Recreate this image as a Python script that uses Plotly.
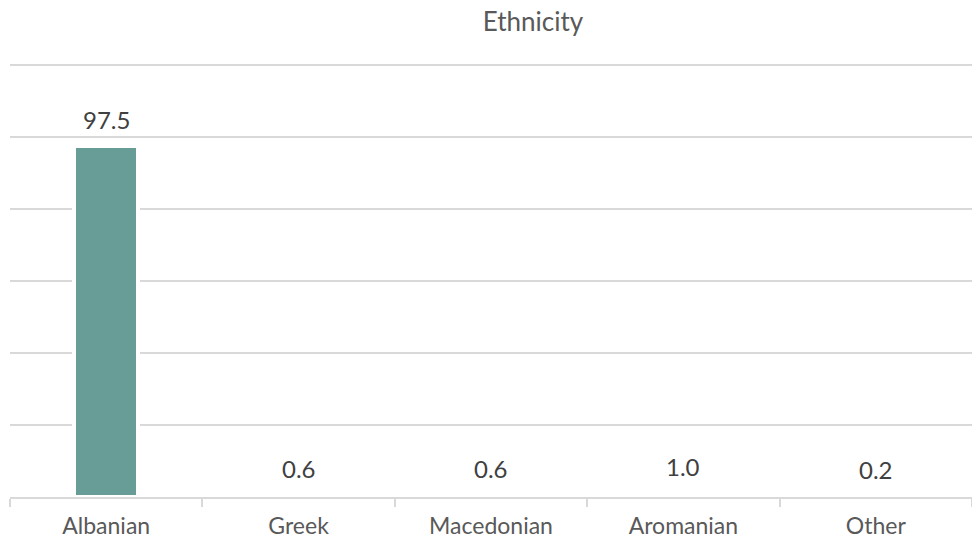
import plotly.graph_objects as go

# Share of population by ethnicity (%)
categories = ["Albanian", "Greek", "Macedonian", "Aromanian", "Other"]
shares = [97.5, 0.6, 0.6, 1.0, 0.2]

bar_color = "#679D96"
label_color = "#404040"
axis_text_color = "#595959"
grid_color = "#D9D9D9"
font_family = "Lato, 'Noto Sans', sans-serif"

fig = go.Figure(
    go.Bar(
        x=categories,
        y=shares,
        width=0.333,
        marker=dict(color=bar_color, line=dict(color="white", width=4)),
        hoverinfo="x+y",
    )
)

# Value labels sitting above each bar
for cat, val in zip(categories, shares):
    fig.add_annotation(
        x=cat,
        y=val,
        xref="x",
        yref="y",
        text=f"{val:.1f}",
        showarrow=False,
        yanchor="bottom",
        yshift=10,
        font=dict(size=24, color=label_color, family=font_family),
    )

fig.update_layout(
    width=972,
    height=540,
    margin=dict(l=10, r=0, t=61, b=43),
    paper_bgcolor="white",
    plot_bgcolor="white",
    showlegend=False,
    font=dict(family=font_family, color=axis_text_color, size=23),
    title=dict(
        text="Ethnicity",
        x=533 / 972,
        xanchor="center",
        xref="container",
        y=1 - 22 / 540,
        yanchor="middle",
        yref="container",
        font=dict(size=26, color=axis_text_color, family=font_family),
    ),
    bargap=0,
)

fig.update_xaxes(
    showgrid=False,
    showline=True,
    linecolor=grid_color,
    linewidth=1.5,
    ticks="outside",
    tickson="boundaries",
    ticklen=8,
    tickwidth=1.5,
    tickcolor=grid_color,
    ticklabelstandoff=8,
    tickfont=dict(size=23, color=axis_text_color, family=font_family),
)

fig.update_yaxes(
    range=[0, 121],
    dtick=20,
    showgrid=True,
    gridcolor=grid_color,
    gridwidth=1.5,
    showticklabels=False,
    zeroline=False,
    showline=False,
)

fig.write_html("out.html")
